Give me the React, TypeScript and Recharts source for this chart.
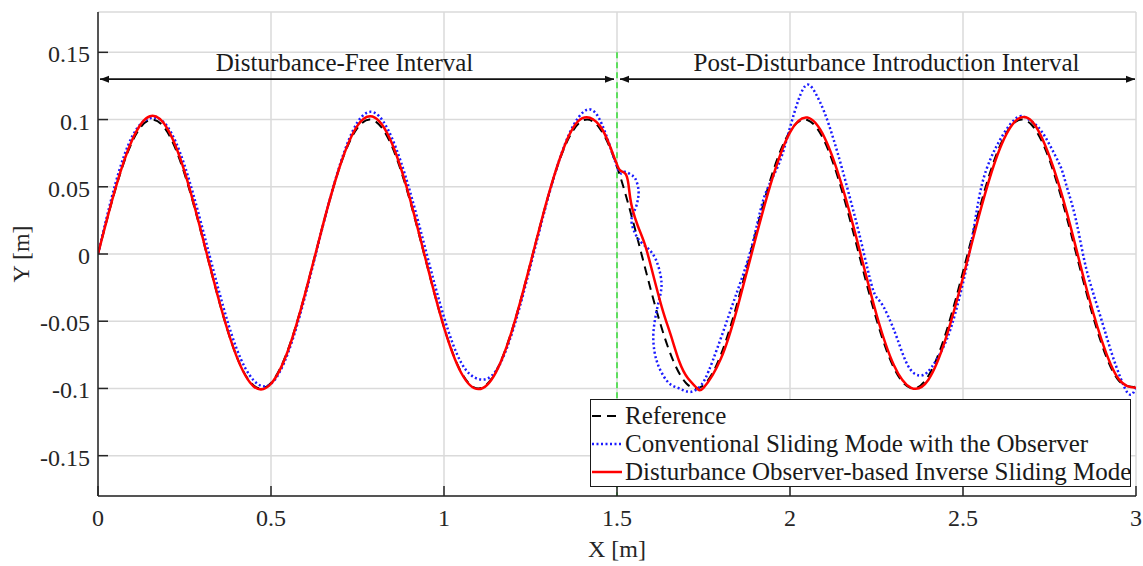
import { LineChart, Line, XAxis, YAxis, CartesianGrid, ReferenceLine, Legend, Label } from 'recharts';

const X_TICKS = [0, 0.5, 1, 1.5, 2, 2.5, 3];
const Y_TICKS = [-0.15, -0.1, -0.05, 0, 0.05, 0.1, 0.15];

// desired trajectory (black dashed)
const REFERENCE: [number, number][] = [
  [0, 0], [0.05, 0.0479], [0.1, 0.0841], [0.15, 0.0997], [0.2, 0.0909], [0.25, 0.0598],
  [0.3, 0.0141], [0.35, -0.0351], [0.4, -0.0757], [0.45, -0.0978], [0.5, -0.0959], [0.55, -0.0706],
  [0.6, -0.0279], [0.65, 0.0215], [0.7, 0.0657], [0.75, 0.0938], [0.8, 0.0989], [0.85, 0.0798],
  [0.9, 0.0412], [0.95, -0.0075], [1.0, -0.0544], [1.05, -0.088], [1.1, -0.1], [1.15, -0.0875],
  [1.2, -0.0537], [1.25, -0.0066], [1.3, 0.042], [1.35, 0.0804], [1.4, 0.0991], [1.45, 0.0935],
  [1.5, 0.065], [1.55, 0.0206], [1.6, -0.0288], [1.65, -0.0712], [1.7, -0.0961], [1.75, -0.0976],
  [1.8, -0.0751], [1.85, -0.0342], [1.9, 0.015], [1.95, 0.0606], [2.0, 0.0913], [2.05, 0.0997],
  [2.1, 0.0837], [2.15, 0.0472], [2.2, -0.0009], [2.25, -0.0487], [2.3, -0.0846], [2.35, -0.0998],
  [2.4, -0.0906], [2.45, -0.0591], [2.5, -0.0132], [2.55, 0.0359], [2.6, 0.0763], [2.65, 0.098],
  [2.7, 0.0956], [2.75, 0.0699], [2.8, 0.0271], [2.85, -0.0224], [2.9, -0.0664], [2.95, -0.0941],
  [3.0, -0.0988],
];

// conventional sliding mode with observer (blue dotted)
const CONVENTIONAL: [number, number][] = [
  [0, 0], [0.05, 0.052], [0.1, 0.088], [0.15, 0.101], [0.2, 0.095], [0.25, 0.066],
  [0.3, 0.021], [0.35, -0.028], [0.4, -0.07], [0.45, -0.094], [0.5, -0.0965], [0.55, -0.073],
  [0.6, -0.03], [0.65, 0.021], [0.7, 0.067], [0.75, 0.098], [0.8, 0.105], [0.85, 0.086],
  [0.9, 0.048], [0.95, 0.0], [1.0, -0.047], [1.05, -0.081], [1.1, -0.093], [1.15, -0.087],
  [1.2, -0.056], [1.25, -0.009], [1.3, 0.041], [1.35, 0.082], [1.4, 0.105], [1.45, 0.1],
  [1.5, 0.065], [1.52, 0.061], [1.54, 0.059], [1.553, 0.056], [1.562, 0.048], [1.56, 0.04],
  [1.552, 0.033], [1.542, 0.026], [1.548, 0.018], [1.565, 0.01], [1.59, 0.004], [1.612, -0.004],
  [1.626, -0.016], [1.628, -0.026], [1.62, -0.036], [1.611, -0.047], [1.605, -0.06], [1.608, -0.072],
  [1.618, -0.082], [1.635, -0.091], [1.655, -0.097], [1.68, -0.1], [1.705, -0.1025], [1.725, -0.1015],
  [1.745, -0.097], [1.765, -0.087], [1.79, -0.07], [1.82, -0.048], [1.85, -0.026], [1.88, -0.003],
  [1.905, 0.022], [1.925, 0.042], [1.95, 0.057], [1.975, 0.072], [2.0, 0.094], [2.025, 0.115],
  [2.05, 0.126], [2.075, 0.119], [2.1, 0.105], [2.125, 0.086], [2.15, 0.064], [2.175, 0.04],
  [2.2, 0.015], [2.225, -0.012], [2.245, -0.03], [2.265, -0.037], [2.29, -0.05], [2.31, -0.063],
  [2.335, -0.08], [2.36, -0.089], [2.385, -0.09], [2.41, -0.084], [2.44, -0.071], [2.465, -0.055],
  [2.49, -0.032], [2.515, -0.004], [2.535, 0.025], [2.555, 0.052], [2.58, 0.071], [2.605, 0.084],
  [2.635, 0.096], [2.665, 0.1025], [2.69, 0.1], [2.715, 0.095], [2.74, 0.086], [2.765, 0.074],
  [2.785, 0.063], [2.8, 0.05], [2.825, 0.027], [2.85, -0.004], [2.875, -0.028], [2.905, -0.053],
  [2.93, -0.074], [2.955, -0.092], [2.975, -0.103], [2.99, -0.104], [3.0, -0.098],
];

// DOB-based inverse sliding mode (red solid)
const DOB_ISM: [number, number][] = [
  [0, 0], [0.05, 0.0485], [0.1, 0.0855], [0.15, 0.1025], [0.2, 0.0935], [0.25, 0.0615],
  [0.3, 0.0148], [0.35, -0.0348], [0.4, -0.0758], [0.45, -0.0985], [0.5, -0.0965], [0.55, -0.0712],
  [0.6, -0.0282], [0.65, 0.0215], [0.7, 0.066], [0.75, 0.0955], [0.8, 0.1015], [0.85, 0.082],
  [0.9, 0.0425], [0.95, -0.007], [1.0, -0.0545], [1.05, -0.0885], [1.1, -0.1005], [1.15, -0.088],
  [1.2, -0.054], [1.25, -0.0068], [1.3, 0.0422], [1.35, 0.0815], [1.4, 0.101], [1.45, 0.0955],
  [1.48, 0.08], [1.5, 0.0665], [1.51, 0.062], [1.525, 0.0595], [1.533, 0.052], [1.538, 0.042],
  [1.545, 0.033], [1.56, 0.021], [1.58, 0.0075], [1.6, -0.011], [1.63, -0.04], [1.655, -0.06],
  [1.68, -0.08], [1.705, -0.0925], [1.73, -0.0995], [1.75, -0.0995], [1.8, -0.078], [1.85, -0.038],
  [1.9, 0.011], [1.95, 0.057], [2.0, 0.0905], [2.05, 0.1015], [2.1, 0.0865], [2.15, 0.051],
  [2.2, 0.004], [2.25, -0.045], [2.3, -0.0825], [2.35, -0.0995], [2.4, -0.0935], [2.45, -0.063],
  [2.5, -0.0175], [2.55, 0.032], [2.6, 0.074], [2.65, 0.0985], [2.7, 0.0985], [2.75, 0.0725],
  [2.8, 0.031], [2.85, -0.019], [2.9, -0.0635], [2.95, -0.093], [3.0, -0.0995],
];

const FONT = '"Liberation Serif", "Times New Roman", serif';
const INK = '#262626';

const SERIES = [
  { key: 'ref', name: 'Reference', color: '#000000', dash: '9 6', width: 2, data: REFERENCE },
  { key: 'csm', name: 'Conventional Sliding Mode with the Observer', color: '#1a1aff', dash: '2 2.5', width: 2.5, data: CONVENTIONAL },
  { key: 'dob', name: 'Disturbance Observer-based Inverse Sliding Mode', color: '#ff0000', dash: undefined, width: 2.5, data: DOB_ISM },
];

const fmt = (v: number) => String(v);

const LeftTick = ({ x, y, payload }: any) => (
  <g>
    <line x1={x + 8} x2={x + 18} y1={y} y2={y} stroke={INK} strokeWidth={1.5} />
    <text x={x} y={y + 2} textAnchor="end" dominantBaseline="central" fontSize={24} fill={INK} fontFamily={FONT}>
      {fmt(payload.value)}
    </text>
  </g>
);

const BottomTick = ({ x, y, payload }: any) => (
  <g>
    <line x1={x} x2={x} y1={y - 22} y2={y - 32} stroke={INK} strokeWidth={1.5} />
    <text x={x} y={y} textAnchor="middle" dominantBaseline="central" fontSize={24} fill={INK} fontFamily={FONT}>
      {fmt(payload.value)}
    </text>
  </g>
);

const TopTick = ({ x, y }: any) => <line x1={x} x2={x} y1={y} y2={y + 10} stroke={INK} strokeWidth={1.5} />;
const RightTick = ({ x, y }: any) => <line x1={x} x2={x - 10} y1={y} y2={y} stroke={INK} strokeWidth={1.5} />;

// double-headed arrow with caption, drawn on a ReferenceLine segment
const intervalArrow = (caption: string, dx: number, padL: number, padR: number) => (p: any) => {
  const a = p.x1 + padL;
  const b = p.x2 - padR;
  const y = p.y1;
  return (
    <g>
      <line x1={a} x2={b} y1={y} y2={y} stroke="#111" strokeWidth={1.8} />
      <polygon points={`${a},${y} ${a + 9},${y - 3.5} ${a + 9},${y + 3.5}`} fill="#111" />
      <polygon points={`${b},${y} ${b - 9},${y - 3.5} ${b - 9},${y + 3.5}`} fill="#111" />
      <text x={(p.x1 + p.x2) / 2 + dx} y={y - 8} textAnchor="middle" fontSize={25} fill="#1a1a1a" fontFamily={FONT}>
        {caption}
      </text>
    </g>
  );
};

const LegendBox = () => (
  <div style={{ border: '1.5px solid #1a1a1a', background: '#fff', paddingTop: 2, boxSizing: 'border-box', width: 541, height: 88, fontFamily: FONT, fontSize: 25, color: '#1a1a1a' }}>
    {SERIES.map((s) => (
      <div key={s.key} style={{ display: 'flex', alignItems: 'center', height: 28, whiteSpace: 'nowrap' }}>
        <svg width={34} height={10} style={{ flex: 'none' }}>
          <line x1={1} x2={31} y1={5} y2={5} stroke={s.color} strokeWidth={s.width} strokeDasharray={s.dash} />
        </svg>
        <span>{s.name}</span>
      </div>
    ))}
  </div>
);

export const TrackingChart = () => (
  <div style={{ position: 'absolute', left: 0, top: 0, fontFamily: FONT, background: '#fff' }}>
    <LineChart width={1143} height={566} margin={{ top: 12, right: 7, bottom: 30, left: 38 }}>
      <CartesianGrid stroke="#dadada" strokeWidth={1.5} />
      <XAxis
        dataKey="x" type="number" domain={[0, 3]} ticks={X_TICKS} allowDataOverflow
        height={40} tickSize={0} tickMargin={22} tickLine={false} tick={BottomTick}
        axisLine={{ stroke: INK, strokeWidth: 1.5 }}
      >
        <Label
          content={({ viewBox }: any) => (
            <text x={viewBox.x + viewBox.width / 2} y={viewBox.y + viewBox.height + 13} textAnchor="middle"
              dominantBaseline="central" fontSize={24} fill={INK} fontFamily={FONT}>X [m]</text>
          )}
        />
      </XAxis>
      <XAxis
        xAxisId="top" orientation="top" type="number" domain={[0, 3]} ticks={X_TICKS} allowDataOverflow
        height={0} tickSize={0} tickMargin={0} tickLine={false} tick={TopTick}
        axisLine={{ stroke: INK, strokeWidth: 1.5 }}
      />
      <YAxis
        type="number" domain={[-0.18, 0.18]} ticks={Y_TICKS} allowDataOverflow
        width={60} tickSize={0} tickMargin={8} tickLine={false} tick={LeftTick}
        axisLine={{ stroke: INK, strokeWidth: 1.5 }}
      >
        <Label
          content={({ viewBox }: any) => {
            const cx = viewBox.x - 17;
            const cy = viewBox.y + viewBox.height / 2;
            return (
              <text x={cx} y={cy} transform={`rotate(-90 ${cx} ${cy})`} textAnchor="middle"
                dominantBaseline="central" fontSize={24} fill={INK} fontFamily={FONT}>Y [m]</text>
            );
          }}
        />
      </YAxis>
      <YAxis
        yAxisId="right" orientation="right" type="number" domain={[-0.18, 0.18]} ticks={Y_TICKS} allowDataOverflow
        width={0} tickSize={0} tickMargin={0} tickLine={false} tick={RightTick}
        axisLine={{ stroke: INK, strokeWidth: 1.5 }}
      />

      <ReferenceLine segment={[{ x: 1.5, y: 0.15 }, { x: 1.5, y: -0.18 }]} stroke="#33dd33" strokeWidth={1.5} strokeDasharray="6 4" />
      <ReferenceLine segment={[{ x: 0, y: 0.13 }, { x: 1.5, y: 0.13 }]} shape={intervalArrow('Disturbance-Free Interval', -13, 2, 3)} />
      <ReferenceLine segment={[{ x: 1.5, y: 0.13 }, { x: 3, y: 0.13 }]} shape={intervalArrow('Post-Disturbance Introduction Interval', 10, 3, 1)} />

      {SERIES.map((s) => (
        <Line
          key={s.key}
          data={s.data.map(([x, y]) => ({ x, y }))}
          dataKey="y"
          name={s.name}
          type="natural"
          stroke={s.color}
          strokeWidth={s.width}
          strokeDasharray={s.dash}
          dot={false}
          activeDot={false}
          isAnimationActive={false}
        />
      ))}

      <Legend
        layout="vertical" verticalAlign="middle" align="center"
        wrapperStyle={{ left: 590, top: 399, width: 541, height: 88 }}
        content={() => <LegendBox />}
      />
    </LineChart>
  </div>
);

export default function App() {
  return <TrackingChart />;
}
